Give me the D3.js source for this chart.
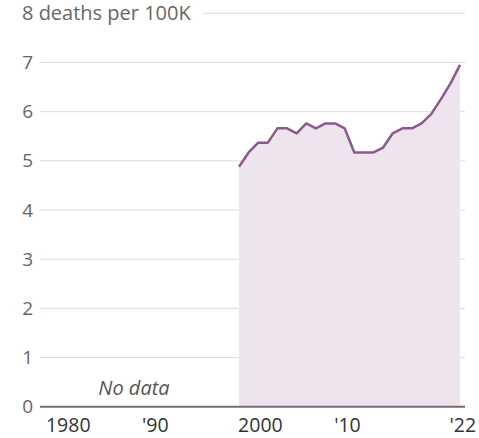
<!DOCTYPE html>
<html>
<head>
<meta charset="utf-8">
<script src="https://cdn.jsdelivr.net/npm/d3@7"></script>
<style>
  html, body { margin: 0; padding: 0; background: #fff; }
  svg { display: block; }
  text { font-family: "Open Sans", "Liberation Sans", sans-serif; }
</style>
</head>
<body>
<svg id="chart" width="479" height="438"></svg>
<script>
const years = [1999,2000,2001,2002,2003,2004,2005,2006,2007,2008,2009,2010,2011,2012,2013,2014,2015,2016,2017,2018,2019,2020,2021,2022];
const rates = [4.88,5.17,5.37,5.37,5.66,5.66,5.56,5.76,5.66,5.76,5.76,5.66,5.17,5.17,5.17,5.27,5.56,5.66,5.66,5.76,5.95,6.25,6.57,6.95];
const xTickValues = [1980,1990,2000,2010,2022];
const xTickLabels = ["1980","'90","2000","'10","'22"];
const yTickValues = [0,1,2,3,4,5,6,7,8];
const yUnitLabel = "8 deaths per 100K";
const noDataLabel = "No data";

const svg = d3.select("#chart");
const gridLeft = 40, gridRight = 465;

const x = d3.scaleLinear().domain([1999, 2022]).range([239, 460]);
const y = d3.scaleLinear().domain([0, 8]).range([406.7, 13.3]);

// gridlines
const grid = svg.append("g");
yTickValues.filter(v => v > 0).forEach(v => {
  grid.append("line")
    .attr("x1", v === 8 ? 202 : gridLeft).attr("x2", gridRight)
    .attr("y1", y(v)).attr("y2", y(v))
    .attr("stroke", "#dcdcdc").attr("stroke-width", 1);
});

// y labels
const yAxis = d3.axisLeft(y).tickValues(yTickValues.filter(v => v < 8)).tickSize(0).tickPadding(0);
const yg = svg.append("g").attr("transform", "translate(33,0)").call(yAxis);
yg.select(".domain").remove();
yg.selectAll("text").attr("font-size", 19).attr("fill", "#666")
  .attr("font-family", "'Open Sans', sans-serif");
svg.append("text").attr("x", 22).attr("y", y(8)).attr("dy", "0.35em")
  .attr("font-size", 20).attr("fill", "#666").text(yUnitLabel);

// area + line
const area = d3.area().x((d,i) => x(years[i])).y0(y(0)).y1(d => y(d));
const line = d3.line().x((d,i) => x(years[i])).y(d => y(d));
svg.append("path").datum(rates).attr("d", area).attr("fill", "#eee4ee");
svg.append("path").datum(rates).attr("d", line).attr("fill", "none")
  .attr("stroke", "#8a5a8c").attr("stroke-width", 2.5).attr("stroke-linejoin", "round");

// baseline
svg.append("line").attr("x1", gridLeft).attr("x2", gridRight)
  .attr("y1", y(0)).attr("y2", y(0)).attr("stroke", "#707070").attr("stroke-width", 2);

// x axis labels
const xAxis = d3.axisBottom(x).tickValues(xTickValues)
  .tickFormat((d,i) => xTickLabels[i]).tickSize(0).tickPadding(0);
const xg = svg.append("g").attr("transform", `translate(0,${y(0)})`).call(xAxis);
xg.select(".domain").remove();
xg.selectAll("text").attr("font-size", 19.5).attr("fill", "#333")
  .attr("text-anchor", "start").attr("dx", -11).attr("y", 0).attr("dy", 25)
  .attr("font-family", "'Open Sans', sans-serif");

// No data
svg.append("text").attr("x", 134).attr("y", 395).attr("text-anchor", "middle")
  .attr("font-size", 20).attr("font-style", "italic").attr("fill", "#555").text(noDataLabel);
</script>
</body>
</html>
